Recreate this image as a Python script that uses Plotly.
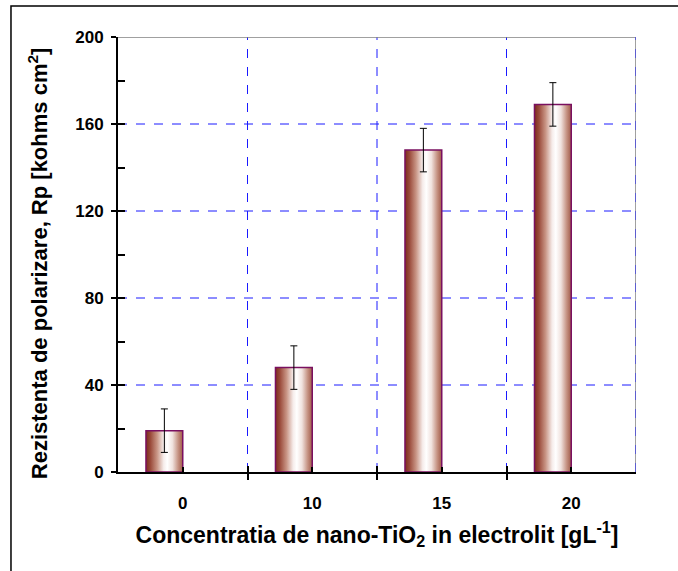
import plotly.graph_objects as go

# Polarization resistance vs. nano-TiO2 concentration
categories = ["0", "10", "15", "20"]
rp_values = [19, 48, 148, 169]
rp_errors = [10, 10, 10, 10]

y_ticks = [0, 40, 80, 120, 160, 200]
grid_y = [40, 80, 120, 160]

BAR_W = 0.284          # bar width in category units (bar ends at category centre)
FONT = "Liberation Sans, Arial, sans-serif"
GRAD = [[0.0, "#7a2c1c"], [0.12, "#9a4a3a"], [0.3, "#c89484"],
        [0.48, "#f6ecea"], [0.58, "#ffffff"], [0.72, "#f0e2de"],
        [0.88, "#c49080"], [1.0, "#a05a48"]]
BLUE = "#1a1aff"

fig = go.Figure()

# gradient-filled bars
for i, v in enumerate(rp_values):
    x0, x1 = i - BAR_W, i
    fig.add_trace(go.Scatter(
        x=[x0, x0, x1, x1, x0], y=[0, v, v, 0, 0],
        mode="lines", fill="toself",
        fillgradient=dict(type="horizontal", colorscale=GRAD, start=x0, stop=x1),
        line=dict(color="#7a1060", width=1.5),
        hoverinfo="skip", showlegend=False,
    ))

# error bars
fig.add_trace(go.Scatter(
    x=[i - BAR_W / 2 for i in range(len(categories))], y=rp_values,
    mode="markers", marker=dict(size=1, color="rgba(0,0,0,0)"),
    error_y=dict(type="data", array=rp_errors, color="black", thickness=1, width=3.5),
    showlegend=False, hoverinfo="skip",
))

# invisible trace that activates the overlay axes
fig.add_trace(go.Scatter(x=[0], y=[0], xaxis="x2", yaxis="y2", mode="markers",
                         marker=dict(size=1, color="rgba(0,0,0,0)"), showlegend=False,
                         hoverinfo="skip"))

xr = [-0.5, len(categories) - 0.5]
bounds = [k - 0.5 for k in range(len(categories) + 1)]

fig.update_layout(
    width=678, height=571,
    margin=dict(l=118, r=42, t=37, b=99),
    paper_bgcolor="white", plot_bgcolor="white",
    font=dict(family=FONT, color="black"),
    xaxis=dict(
        range=xr, tickmode="array", tickvals=list(range(len(categories))),
        ticktext=categories, ticks="inside", ticklen=5, tickwidth=2, tickcolor="black",
        tickfont=dict(size=17, family=FONT, weight="bold"), ticklabelstandoff=15,
        showline=True, linecolor="black", linewidth=2, showgrid=False, zeroline=False,
        minor=dict(tickmode="array", tickvals=bounds, ticks="outside", ticklen=6,
                   tickwidth=2, tickcolor="black", showgrid=False),
        title=dict(text="Concentratia de nano-TiO<sub>2</sub> in electrolit [gL<sup>-1</sup>]",
                   font=dict(size=23, family=FONT, weight="bold"), standoff=14),
    ),
    xaxis2=dict(
        overlaying="x", range=xr, tickmode="array", tickvals=bounds, showticklabels=False,
        ticks="inside", ticklen=6, tickwidth=2, tickcolor="black", anchor="y",
        showgrid=False, zeroline=False, showline=False,
    ),
    yaxis=dict(
        range=[0, 200], tickmode="array", tickvals=y_ticks, ticks="outside", ticklen=5,
        tickwidth=2, tickcolor="black", showline=True, linecolor="black", linewidth=2,
        showgrid=False, zeroline=False, ticklabelstandoff=4,
        tickfont=dict(size=17, family=FONT, weight="bold"),
    ),
    yaxis2=dict(
        overlaying="y", range=[0, 200], tickmode="array", tickvals=y_ticks,
        showticklabels=False, ticks="inside", ticklen=7, tickwidth=2, tickcolor="black",
        anchor="x", side="left", showline=False, zeroline=False, showgrid=False,
        minor=dict(tickmode="array", tickvals=[20, 60, 100, 140, 180], ticks="inside",
                   ticklen=7, tickwidth=2, tickcolor="black", showgrid=False),
    ),
)

# y axis title
fig.add_annotation(
    text="Rezistenta de polarizare, Rp [kohms cm<sup>2</sup>]",
    xref="paper", yref="paper", x=-0.1544, y=0.48, textangle=-90,
    xanchor="center", yanchor="middle", showarrow=False,
    font=dict(size=22, family=FONT, weight="bold", color="black"),
)

# horizontal dashed grid
for gy in grid_y:
    fig.add_shape(type="line", xref="x", yref="y", x0=xr[0], x1=xr[1], y0=gy, y1=gy,
                  line=dict(color=BLUE, width=1, dash="dash"), layer="below")

# vertical dashed dividers between categories
for b in bounds[1:-1]:
    fig.add_shape(type="line", xref="x", yref="y", x0=b, x1=b, y0=0, y1=200,
                  line=dict(color=BLUE, width=1, dash="dash"), layer="below")

# plot area border (top and right)
fig.add_shape(type="line", xref="x", yref="y", x0=xr[0], x1=xr[1], y0=200, y1=200,
              line=dict(color="#808080", width=1.5), layer="below")
fig.add_shape(type="line", xref="x", yref="y", x0=xr[1], x1=xr[1], y0=0, y1=200,
              line=dict(color="#a0a0a0", width=2), layer="below")
fig.add_shape(type="line", xref="x", yref="y", x0=xr[1], x1=xr[1], y0=0, y1=200,
              line=dict(color=BLUE, width=1, dash="dash"), layer="below")

# outer chart frame
fig.add_shape(type="rect", xref="paper", yref="paper", x0=-0.2066, x1=2.0, y0=-1.0, y1=1.0713,
              line=dict(color="black", width=1.5), fillcolor="rgba(0,0,0,0)", layer="above")

fig.write_html("out.html")
